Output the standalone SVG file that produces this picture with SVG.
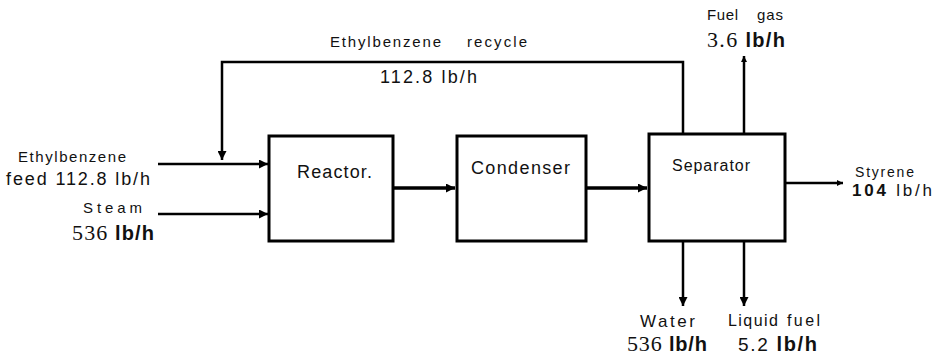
<svg xmlns="http://www.w3.org/2000/svg" width="941" height="361" viewBox="0 0 941 361">
<defs>
<marker id="ah" viewBox="0 0 10 10" refX="10" refY="5" markerWidth="8" markerHeight="6" markerUnits="userSpaceOnUse" orient="auto">
<path d="M0,0 L10,5 L0,10 z" fill="#000"/>
</marker>
<marker id="ahs" viewBox="0 0 10 10" refX="10" refY="5" markerWidth="20" markerHeight="9" markerUnits="userSpaceOnUse" orient="auto">
<path d="M0,0 L10,5 L0,10 z" fill="#000"/>
</marker>
</defs>
<style>
.box{fill:#fff;stroke:#000;stroke-width:3}
.ln{fill:none;stroke:#000;stroke-width:2.5}
.thk{fill:none;stroke:#000;stroke-width:3.5}
.t{font-family:"Liberation Sans",Arial,sans-serif;fill:#111}
.ser{font-family:"Liberation Serif","Times New Roman",serif;font-size:22px;fill:#111}
.b{font-family:"Liberation Sans",Arial,sans-serif;font-weight:bold;font-size:20px;fill:#111}
</style>
<rect width="941" height="361" fill="#fff"/>
<g id="connectors">
<polyline class="ln" points="683,134 683,62 222,62 222,160" marker-end="url(#ahs)"/>
<line class="ln" x1="158" y1="164" x2="268" y2="164" marker-end="url(#ahs)"/>
<line class="ln" x1="158" y1="214" x2="268" y2="214" marker-end="url(#ahs)"/>
<line class="thk" x1="394" y1="188" x2="455" y2="188" marker-end="url(#ahs)"/>
<line class="thk" x1="587" y1="188" x2="647" y2="188" marker-end="url(#ahs)"/>
<line class="ln" x1="744" y1="134" x2="744" y2="56" marker-end="url(#ah)"/>
<line class="ln" x1="785" y1="183" x2="843" y2="183" marker-end="url(#ah)"/>
<line class="ln" x1="683" y1="241" x2="683" y2="306" marker-end="url(#ahs)"/>
<line class="ln" x1="744" y1="241" x2="744" y2="306" marker-end="url(#ahs)"/>
</g>
<g id="reactor">
<rect class="box" x="269" y="136" width="124" height="105"/>
<text class="t" x="297" y="178" style="font-size:18px" textLength="75">Reactor.</text>
</g>
<g id="condenser">
<rect class="box" x="457" y="136" width="129" height="105"/>
<text class="t" x="471" y="174" style="font-size:18px" textLength="99">Condenser</text>
</g>
<g id="separator">
<rect class="box" x="649" y="134" width="136" height="107"/>
<text class="t" x="672" y="171" style="font-size:16px" textLength="78">Separator</text>
</g>
<g id="labels">
<text class="t" y="47" style="font-size:15px"><tspan x="330" textLength="111">Ethylbenzene</tspan><tspan x="467" textLength="60">recycle</tspan></text>
<text class="t" x="380" y="83" style="font-size:18px" textLength="97">112.8 lb/h</text>
<text class="t" x="18" y="162" style="font-size:15px" textLength="108">Ethylbenzene</text>
<text class="t" x="6" y="185" style="font-size:18px" textLength="144">feed 112.8 lb/h</text>
<text class="t" x="83" y="213" style="font-size:15px" textLength="59">Steam</text>
<text x="72" y="240" textLength="82"><tspan class="ser">536 </tspan><tspan class="b">lb/h</tspan></text>
<text class="t" y="20" style="font-size:15px"><tspan x="707" textLength="31">Fuel</tspan><tspan x="757" textLength="26">gas</tspan></text>
<text x="707" y="47" textLength="78"><tspan class="ser">3.6 </tspan><tspan class="b">lb/h</tspan></text>
<text class="t" x="855" y="177" style="font-size:14px" textLength="59">Styrene</text>
<text x="852" y="196" textLength="80"><tspan class="b" style="font-size:17px">104 </tspan><tspan class="t" style="font-size:17px">lb/h</tspan></text>
<text class="t" x="640" y="327" style="font-size:17px" textLength="55">Water</text>
<text x="627" y="351" textLength="80"><tspan class="ser">536 </tspan><tspan class="b">lb/h</tspan></text>
<text class="t" y="326" style="font-size:16px"><tspan x="728" textLength="50">Liquid</tspan><tspan x="787" textLength="33">fuel</tspan></text>
<text x="738" y="351" textLength="79"><tspan class="t" style="font-size:19px">5.2 </tspan><tspan class="b">lb/h</tspan></text>
</g>
</svg>
